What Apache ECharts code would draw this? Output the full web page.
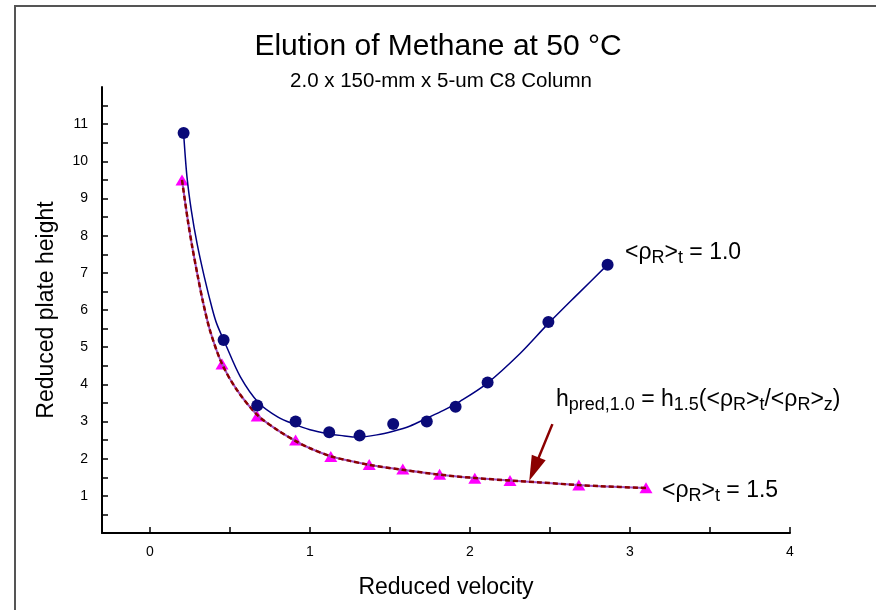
<!DOCTYPE html>
<html>
<head>
<meta charset="utf-8">
<script src="https://cdn.jsdelivr.net/npm/echarts@6/dist/echarts.min.js"></script>
<style>
html,body{margin:0;padding:0;background:#fff;}
#chart{width:876px;height:610px;}
</style>
</head>
<body>
<div id="chart"></div>
<script>
// Axis ticks and labels
const xTickValues = [0, 0.5, 1, 1.5, 2, 2.5, 3, 3.5, 4];
const xLabelValues = [0, 1, 2, 3, 4];
const yTickValues = [0.5, 1, 1.5, 2, 2.5, 3, 3.5, 4, 4.5, 5, 5.5, 6, 6.5, 7, 7.5, 8, 8.5, 9, 9.5, 10, 10.5, 11, 11.5];
const yLabelValues = [1, 2, 3, 4, 5, 6, 7, 8, 9, 10, 11];

// Measured points, <rho_R>_t = 1.0
const rho10X = [0.21, 0.46, 0.67, 0.91, 1.12, 1.31, 1.52, 1.73, 1.91, 2.11, 2.49, 2.86];
const rho10Y = [10.76, 5.19, 3.43, 3.0, 2.71, 2.62, 2.93, 3.0, 3.4, 4.05, 5.68, 7.22];

// Measured points, <rho_R>_t = 1.5
const rho15X = [0.20, 0.45, 0.67, 0.91, 1.13, 1.37, 1.58, 1.81, 2.03, 2.25, 2.68, 3.10];
const rho15Y = [9.5, 4.55, 3.15, 2.5, 2.06, 1.84, 1.72, 1.58, 1.47, 1.41, 1.29, 1.22];

// Fitted curve through the 1.0 data
const fit10X = [0.21, 0.231, 0.258, 0.294, 0.339, 0.391, 0.418, 0.47, 0.564, 0.68, 0.80, 0.90, 1.0, 1.106, 1.20, 1.30, 1.418, 1.52, 1.626, 1.726, 1.834, 1.94, 2.105, 2.313, 2.486, 2.667, 2.86];
const fit10Y = [10.76, 9.59, 8.69, 7.79, 6.90, 6.0, 5.62, 5.10, 4.21, 3.50, 3.12, 2.93, 2.78, 2.68, 2.62, 2.58, 2.64, 2.74, 2.88, 3.08, 3.30, 3.55, 4.02, 4.83, 5.62, 6.40, 7.22];

// Fitted curve through the 1.5 data
const fit15X = [0.20, 0.235, 0.264, 0.298, 0.331, 0.377, 0.45, 0.543, 0.672, 0.80, 0.908, 1.0, 1.133, 1.25, 1.372, 1.578, 1.81, 2.03, 2.25, 2.438, 2.678, 2.813, 3.10];
const fit15Y = [9.5, 8.45, 7.70, 6.92, 6.22, 5.42, 4.55, 3.85, 3.17, 2.76, 2.48, 2.28, 2.06, 1.94, 1.83, 1.70, 1.57, 1.48, 1.41, 1.36, 1.29, 1.26, 1.21];

// Predicted h for 1.0, scaled from the 1.5 curve
const predX = [0.20, 0.235, 0.264, 0.298, 0.331, 0.377, 0.45, 0.543, 0.672, 0.80, 0.908, 1.0, 1.133, 1.25, 1.372, 1.578, 1.81, 2.03, 2.25, 2.438, 2.678, 2.813, 3.10];
const predY = [9.5, 8.45, 7.70, 6.92, 6.22, 5.42, 4.55, 3.85, 3.17, 2.76, 2.48, 2.28, 2.06, 1.94, 1.83, 1.70, 1.57, 1.48, 1.41, 1.36, 1.29, 1.26, 1.21];

// Arrow from the prediction label down to the dashed curve
const arrowFrom = [2.515, 2.93];
const arrowTo = [2.40, 1.72];

const zip = (xs, ys) => xs.map((x, i) => [x, ys[i]]);
const FONT = 'Liberation Sans, Arial, sans-serif';

const chart = echarts.init(document.getElementById('chart'), null, { renderer: 'canvas' });

const richStyles = {
  m: { fontSize: 23, fontFamily: FONT, color: '#000', lineHeight: 26, verticalAlign: 'top' },
  s: { fontSize: 18, fontFamily: FONT, color: '#000', lineHeight: 6, verticalAlign: 'bottom' }
};

chart.setOption({
  animation: false,
  backgroundColor: '#fff',
  grid: { left: 102, right: 86, top: 87, bottom: 77, containLabel: false },
  xAxis: {
    type: 'value', min: -0.3, max: 4,
    name: 'Reduced velocity', nameLocation: 'middle', nameGap: 43,
    nameTextStyle: { fontSize: 23, fontFamily: FONT, color: '#000' },
    axisLine: { show: true, onZero: false, lineStyle: { color: '#000', width: 2 } },
    axisTick: { show: true, inside: true, length: 6, customValues: xTickValues, lineStyle: { color: '#000', width: 1.5 } },
    axisLabel: { customValues: xLabelValues, fontSize: 14, fontFamily: FONT, color: '#000', margin: 12 },
    splitLine: { show: false }
  },
  yAxis: {
    type: 'value', min: 0, max: 12,
    name: 'Reduced plate height', nameLocation: 'middle', nameGap: 44,
    nameTextStyle: { fontSize: 23, fontFamily: FONT, color: '#000' },
    axisLine: { show: true, onZero: false, lineStyle: { color: '#000', width: 2 } },
    axisTick: { show: true, inside: true, length: 6, customValues: yTickValues, lineStyle: { color: '#000', width: 1.5 } },
    axisLabel: { customValues: yLabelValues, fontSize: 14, fontFamily: FONT, color: '#000', margin: 14 },
    splitLine: { show: false }
  },
  graphic: [
    { type: 'rect', silent: true, shape: { x: 15, y: 6, width: 960, height: 700 },
      style: { fill: null, stroke: '#555', lineWidth: 2 } },
    { type: 'text', silent: true, x: 438, y: 47,
      style: { text: 'Elution of Methane at 50 °C', fontSize: 30, fontFamily: FONT, fill: '#000', align: 'center', verticalAlign: 'middle' } },
    { type: 'text', silent: true, x: 441, y: 81,
      style: { text: '2.0 x 150-mm x 5-um C8 Column', fontSize: 20.5, fontFamily: FONT, fill: '#000', align: 'center', verticalAlign: 'middle' } },
    { type: 'text', silent: true, x: 625, y: 241,
      style: { text: '{m|<ρ}{s|R}{m|>}{s|t}{m| = 1.0}', rich: richStyles, align: 'left', verticalAlign: 'top' } },
    { type: 'text', silent: true, x: 556, y: 388,
      style: { text: '{m|h}{s|pred,1.0}{m| = h}{s|1.5}{m|(<ρ}{s|R}{m|>}{s|t}{m|/<ρ}{s|R}{m|>}{s|z}{m|)}', rich: richStyles, align: 'left', verticalAlign: 'top' } },
    { type: 'text', silent: true, x: 662, y: 479,
      style: { text: '{m|<ρ}{s|R}{m|>}{s|t}{m| = 1.5}', rich: richStyles, align: 'left', verticalAlign: 'top' } }
  ],
  series: [
    {
      name: 'rho 1.5 data', type: 'scatter', data: zip(rho15X, rho15Y),
      symbol: 'triangle', symbolSize: [13, 11], itemStyle: { color: '#ff00ff', opacity: 1 }, z: 2
    },
    {
      name: 'rho 1.5 fit', type: 'line', data: zip(fit15X, fit15Y), smooth: 0.3,
      showSymbol: false, symbol: 'none', lineStyle: { color: '#a050c0', width: 2 }, z: 3
    },
    {
      name: 'prediction', type: 'line', data: zip(predX, predY), smooth: 0.3,
      showSymbol: false, symbol: 'none', lineStyle: { color: '#8b0000', width: 2.5, type: [5, 3] }, z: 4,
      markLine: {
        silent: true, symbol: ['none', 'triangle'], symbolSize: [15, 25],
        label: { show: false },
        lineStyle: { color: '#8b0000', width: 2.5, type: 'solid' },
        data: [[{ coord: arrowFrom }, { coord: arrowTo }]]
      }
    },
    {
      name: 'rho 1.0 fit', type: 'line', data: zip(fit10X, fit10Y), smooth: 0.3,
      showSymbol: false, symbol: 'none', lineStyle: { color: '#000080', width: 1.5 }, z: 5
    },
    {
      name: 'rho 1.0 data', type: 'scatter', data: zip(rho10X, rho10Y),
      symbol: 'circle', symbolSize: 12, itemStyle: { color: '#0a0a78', opacity: 1 }, z: 6
    }
  ]
});
</script>
</body>
</html>
